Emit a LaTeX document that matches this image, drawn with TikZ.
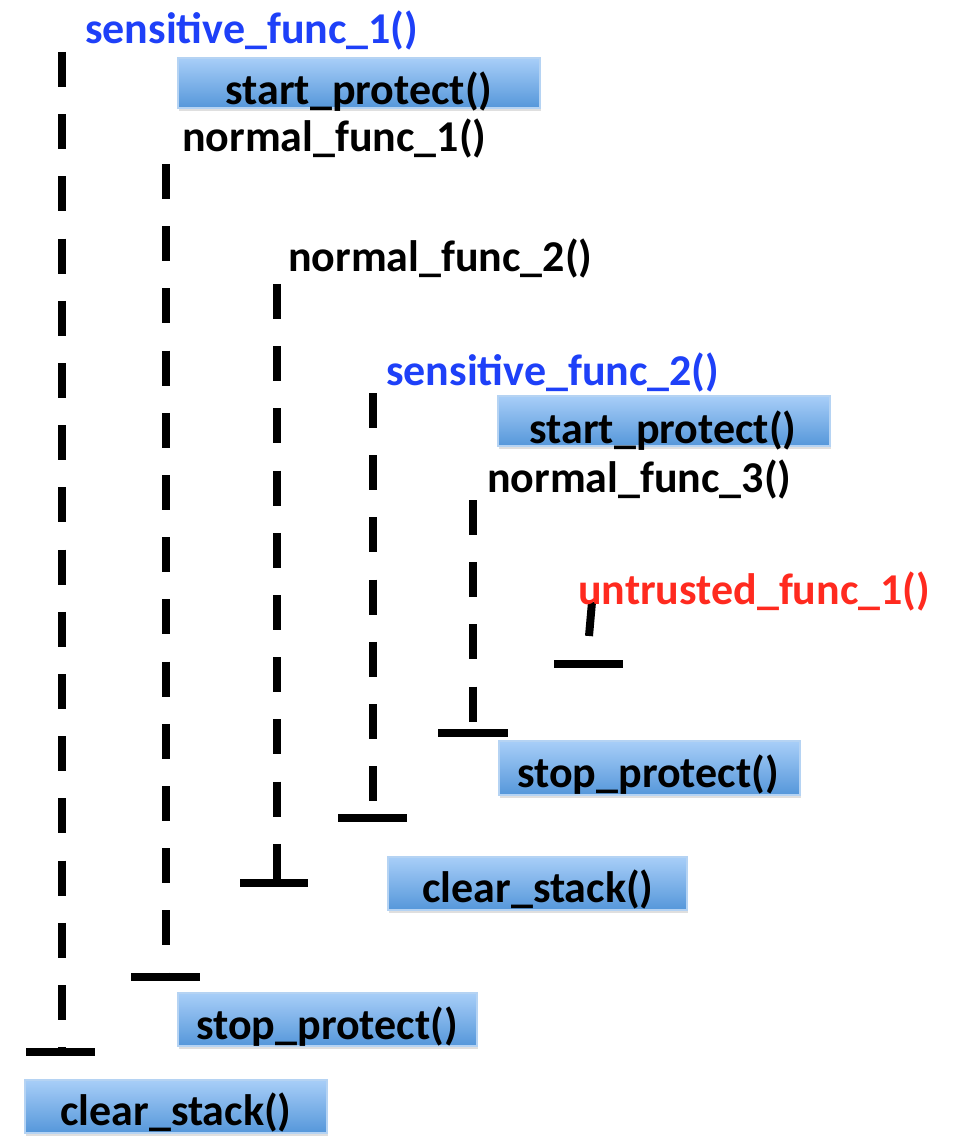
\documentclass[tikz,border=0pt]{standalone}
\usepackage{fontspec}
\setmainfont{Carlito}
\usetikzlibrary{shadows}
\definecolor{sblue}{HTML}{1E40F8}
\definecolor{ured}{HTML}{FF2A1F}
\definecolor{btop}{HTML}{A8CEF8}
\definecolor{bbot}{HTML}{5597DA}
\definecolor{bedge}{HTML}{B5D3F3}
\begin{document}
\begin{tikzpicture}[x=1pt,y=-1pt,
  lbl/.style={font=\fontsize{44}{50}\selectfont\bfseries, inner sep=0pt, anchor=base west},
  boxtxt/.style={font=\fontsize{44}{50}\selectfont\bfseries, inner sep=0pt, anchor=base},
  fbox/.style={rectangle, draw=bedge, line width=1.2pt, top color=btop, bottom color=bbot,
    inner sep=0pt, drop shadow={shadow xshift=1pt, shadow yshift=-3pt, opacity=0.25}},
  life/.style={line width=8pt, dash pattern=on 35pt off 27.2pt},
  endbar/.style={line width=8pt}]
\useasboundingbox (0,0) rectangle (978,1147);

% lifelines
\coordinate (l1t) at (62,52);   \coordinate (l1b) at (62,1052);
\coordinate (l2t) at (166,164); \coordinate (l2b) at (166,977);
\coordinate (l3t) at (277,284); \coordinate (l3b) at (277,883);
\coordinate (l4t) at (373,393); \coordinate (l4b) at (373,818);
\coordinate (l5t) at (473,500); \coordinate (l5b) at (473,733);
\coordinate (l6t) at (592,602); \coordinate (l6b) at (589,636);
\draw[life] (l1t) -- (l1b);
\draw[life] (l2t) -- (l2b);
\draw[life] (l3t) -- (l3b);
\draw[life] (l4t) -- (l4b);
\draw[life] (l5t) -- (l5b);
\draw[endbar] (l6t) -- (l6b);

% end bars
\coordinate (b1l) at (26,1052);  \coordinate (b1r) at (95,1052);
\coordinate (b2l) at (131,977);  \coordinate (b2r) at (200,977);
\coordinate (b3l) at (240,883);  \coordinate (b3r) at (308,883);
\coordinate (b4l) at (338,818);  \coordinate (b4r) at (407,818);
\coordinate (b5l) at (438,733);  \coordinate (b5r) at (508,733);
\coordinate (b6l) at (554,664);  \coordinate (b6r) at (623,664);
\draw[endbar] (b1l) -- (b1r);
\draw[endbar] (b2l) -- (b2r);
\draw[endbar] (b3l) -- (b3r);
\draw[endbar] (b4l) -- (b4r);
\draw[endbar] (b5l) -- (b5r);
\draw[endbar] (b6l) -- (b6r);

% boxes
\node[fbox, minimum width=362, minimum height=50] (sp1) at (359,83) {};
\node[fbox, minimum width=332, minimum height=50] (sp2) at (664,421) {};
\node[fbox, minimum width=301, minimum height=54] (stp2) at (649.5,768) {};
\node[fbox, minimum width=299, minimum height=53] (cs1) at (537.5,883.5) {};
\node[fbox, minimum width=299, minimum height=53] (stp1) at (327.5,1019.5) {};
\node[fbox, minimum width=302, minimum height=53] (cs2) at (176,1106.5) {};

\node[boxtxt] (sp1t) at (359,105) {start\_protect()};
\node[boxtxt] (sp2t) at (663,443) {start\_protect()};
\node[boxtxt] (stp2t) at (648,787) {stop\_protect()};
\node[boxtxt] (cs1t) at (538,902) {clear\_stack()};
\node[boxtxt] (stp1t) at (327,1039) {stop\_protect()};
\node[boxtxt] (cs2t) at (176,1125) {clear\_stack()};

% labels
\node[lbl, text=sblue] (sf1) at (85,44) {sensitive\_func\_1()};
\node[lbl] (nf1) at (182,152) {normal\_func\_1()};
\node[lbl] (nf2) at (288,272) {normal\_func\_2()};
\node[lbl, text=sblue] (sf2) at (386,385) {sensitive\_func\_2()};
\node[lbl] (nf3) at (487,492) {normal\_func\_3()};
\node[lbl, text=ured] (uf1) at (578,604) {untrusted\_func\_1()};
\end{tikzpicture}
\end{document}
